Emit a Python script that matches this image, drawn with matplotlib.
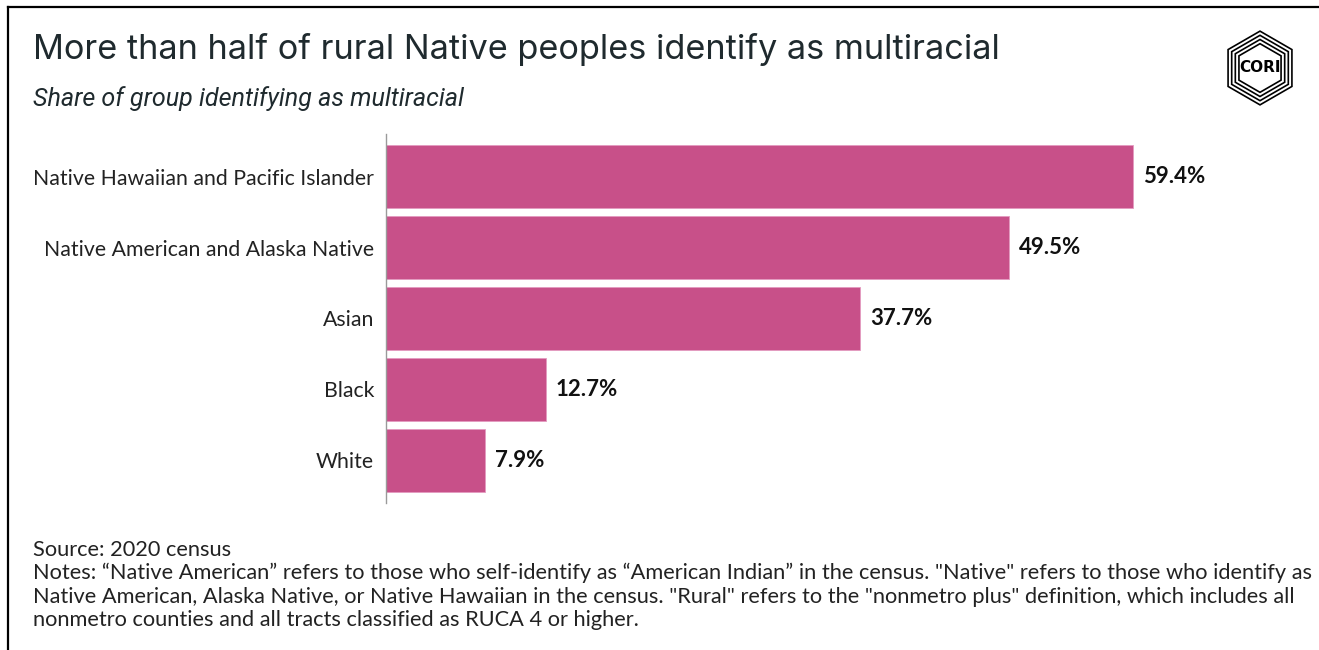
import matplotlib
matplotlib.use("Agg")
import matplotlib.pyplot as plt
from matplotlib.lines import Line2D
from matplotlib.patches import RegularPolygon
import numpy as np

categories = ["Native Hawaiian and Pacific Islander", "Native American and Alaska Native",
              "Asian", "Black", "White"]
values = [59.4, 49.5, 37.7, 12.7, 7.9]
value_labels = ["59.4%", "49.5%", "37.7%", "12.7%", "7.9%"]

title = "More than half of rural Native peoples identify as multiracial"
subtitle = "Share of group identifying as multiracial"
notes = ["Source: 2020 census",
         "Notes: \u201cNative American\u201d refers to those who self-identify as \u201cAmerican Indian\u201d in the census. \"Native\" refers to those who identify as",
         "Native American, Alaska Native, or Native Hawaiian in the census. \"Rural\" refers to the \"nonmetro plus\" definition, which includes all",
         "nonmetro counties and all tracts classified as RUCA 4 or higher."]

W, H = 1319, 650
fig = plt.figure(figsize=(W / 100, H / 100), dpi=100)

def fx(px):
    return px / W

def fy(py):
    return 1 - py / H

BAR = "#C85089"
TXT = "#1f2a2e"

# axes placement in pixels
ax_left, ax_right, ax_top, ax_bot = 386, 1300, 134, 503
ax = fig.add_axes([fx(ax_left), fy(ax_bot), fx(ax_right - ax_left), (ax_bot - ax_top) / H])
px_per_unit = (1133 - 386) / 59.4
xmax = (ax_right - ax_left) / px_per_unit

ypos = np.arange(len(categories))
ax.barh(ypos, values, height=0.887, color=BAR, edgecolor="#e39ac0", linewidth=0.6)
ax.set_xlim(0, xmax)
ax.set_ylim(len(categories) - 0.4, -0.6)
for y, v, lab in zip(ypos, values, value_labels):
    ax.text(v + 10 / px_per_unit, y, lab, va="center", ha="left", fontsize=16,
            fontfamily="Lato", fontweight="bold", color="#111111")
ax.set_yticks(ypos)
ax.set_yticklabels(categories, fontfamily="Lato", fontsize=15.3, color="#222222")
ax.tick_params(axis="y", length=0, pad=8.6)
ax.set_xticks([])
for s in ["top", "right", "bottom"]:
    ax.spines[s].set_visible(False)
ax.spines["left"].set_color("#9a9a9a")
ax.spines["left"].set_linewidth(1.0)

# titles
fig.text(fx(33), fy(50), title, fontsize=24.7, fontfamily="Inter", color=TXT,
         va="center", ha="left")
fig.text(fx(33), fy(99), subtitle, fontsize=18.1, fontfamily="Roboto", style="italic",
         color=TXT, va="center", ha="left")

# notes
for i, line in enumerate(notes):
    fig.text(fx(33), fy(550 + i * 23.3), line, fontsize=15.65, fontfamily="Lato",
             color="#222222", va="center", ha="left")

# border
fig.add_artist(Line2D([fx(8), fx(W)], [fy(7), fy(7)], color="black", lw=1.6,
                      transform=fig.transFigure))
fig.add_artist(Line2D([fx(8), fx(8)], [fy(7), fy(H)], color="black", lw=1.6,
                      transform=fig.transFigure))

# logo approximation
lax = fig.add_axes([fx(1222), fy(106), fx(76), 76 / H])
lax.set_xlim(-1, 1)
lax.set_ylim(-1, 1)
lax.set_aspect("equal")
lax.axis("off")
for r in [0.97, 0.86, 0.75, 0.64]:
    lax.add_patch(RegularPolygon((0, 0), 6, radius=r, orientation=0, fill=False,
                                 edgecolor="black", lw=1.2))
lax.add_patch(RegularPolygon((0, 0), 6, radius=0.58, orientation=0, fill=True,
                             facecolor="white", edgecolor="none"))
lax.text(0, 0, "CORI", ha="center", va="center", fontsize=11, fontweight="bold",
         fontfamily="DejaVu Sans Condensed", color="black")

fig.savefig("out.png", dpi=100, facecolor="white")
